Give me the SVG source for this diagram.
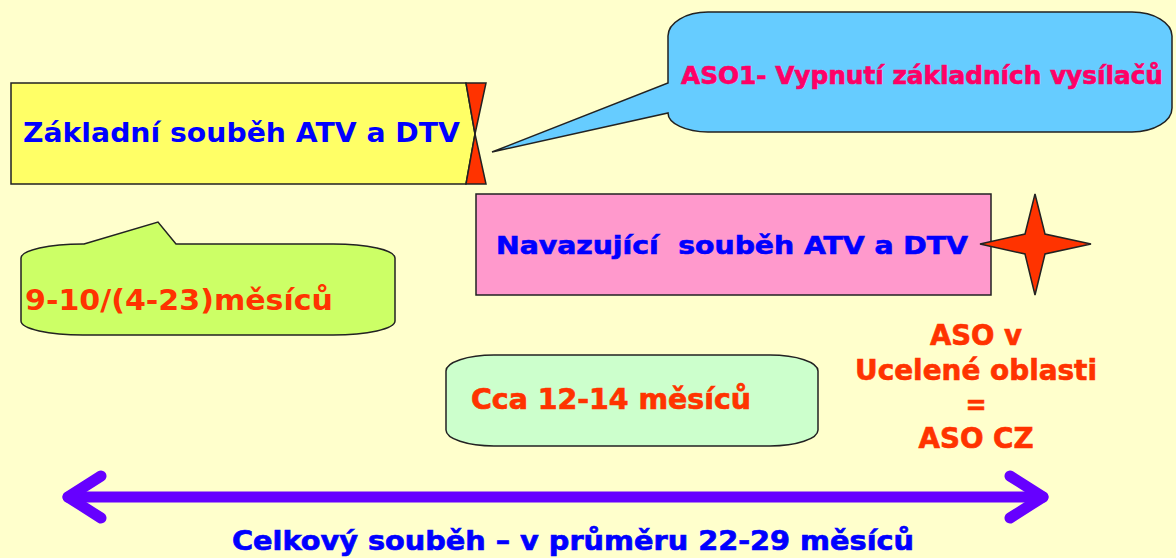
<svg xmlns="http://www.w3.org/2000/svg" width="1176" height="558" viewBox="0 0 1176 558">
<style>
.t{font-family:"DejaVu Sans","Verdana",sans-serif;font-weight:bold}
.c{font-family:"DejaVu Sans Condensed","DejaVu Sans",sans-serif;font-weight:bold;stroke-width:0.6}
.blue{fill:#0000FF;stroke:#0000FF}
.red{fill:#FF3300;stroke:#FF3300}
.pink{fill:#FF0066;stroke:#FF0066}
.t.blue,.t.red{stroke:none}
.box{stroke:#222;stroke-width:1.5}
</style>
<rect width="1176" height="558" fill="#FFFFCC"/>
<g id="zakladni">
<polygon class="box" points="11,83 466,83 475,134 466,184 11,184" fill="#FFFF66"/>
<polygon class="box" points="466,83 486,83 475,134" fill="#FF3300"/>
<polygon class="box" points="475,134 486,184 466,184" fill="#FF3300"/>
<text class="t blue" x="23" y="142" font-size="26" textLength="437" lengthAdjust="spacingAndGlyphs">Základní souběh ATV a DTV</text>
</g>
<g id="aso1">
<path class="box" fill="#66CCFF" d="M 708,12 H 1132 A 40 24 0 0 1 1172,36 V 108 A 40 24 0 0 1 1132,132 H 708 A 40 19 0 0 1 668,113 L 492,152 L 668,83 V 36 A 40 24 0 0 1 708,12 Z"/>
<text class="c pink" x="681" y="84" font-size="25" textLength="482" lengthAdjust="spacingAndGlyphs">ASO1- Vypnutí základních vysílačů</text>
</g>
<g id="mesicu1">
<path class="box" fill="#CCFF66" d="M 84,244 L 158,222 L 176,244 H 333 A 62 14 0 0 1 395,258 V 321 A 62 14 0 0 1 333,335 H 83 A 62 14 0 0 1 21,321 V 258 A 62 14 0 0 1 84,244 Z"/>
<text class="t red" x="25" y="310" font-size="29" textLength="308" lengthAdjust="spacingAndGlyphs">9-10/(4-23)měsíců</text>
</g>
<g id="navazujici">
<rect class="box" x="476" y="194" width="515" height="101" fill="#FF99CC"/>
<text class="c blue" x="496" y="254" font-size="25" textLength="472" lengthAdjust="spacingAndGlyphs" xml:space="preserve">Navazující  souběh ATV a DTV</text>
</g>
<g id="star">
<polygon class="box" fill="#FF3300" points="1035,194 1045,234 1091,244 1045,254 1035,295 1025,254 980,244 1025,234"/>
</g>
<g id="mesicu2">
<rect class="box" x="446" y="355" width="372" height="91" rx="48" ry="16" fill="#CCFFCC"/>
<text class="c red" x="471" y="409" font-size="28" textLength="280" lengthAdjust="spacingAndGlyphs">Cca 12-14 měsíců</text>
</g>
<g id="asocz" class="c red" font-size="28" text-anchor="middle">
<text x="976" y="345" textLength="92" lengthAdjust="spacingAndGlyphs">ASO v</text>
<text x="976" y="380" textLength="242" lengthAdjust="spacingAndGlyphs">Ucelené oblasti</text>
<text x="976" y="414">=</text>
<text x="976" y="448" textLength="115" lengthAdjust="spacingAndGlyphs">ASO CZ</text>
</g>
<g id="connectors" fill="none" stroke="#6600FF" stroke-width="11" stroke-linecap="round" stroke-linejoin="round">
<line x1="68" y1="497" x2="1043" y2="497"/>
<polyline points="101,476 68,497 101,518"/>
<polyline points="1010,476 1043,497 1010,518"/>
</g>
<g id="celkovy">
<text class="c blue" x="232" y="550" font-size="26" textLength="682" lengthAdjust="spacingAndGlyphs">Celkový souběh – v průměru 22-29 měsíců</text>
</g>
</svg>
